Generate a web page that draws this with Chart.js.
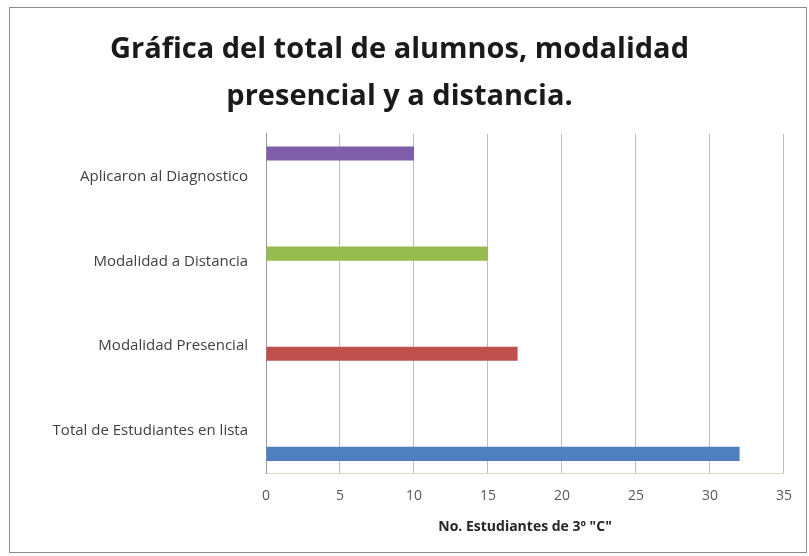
<!DOCTYPE html>
<html>
<head>
<meta charset="utf-8">
<script src="https://cdn.jsdelivr.net/npm/chart.js@4/dist/chart.umd.min.js"></script>
<style>
    body { margin: 0; background: #ffffff; }
    #frame {
        position: absolute; left: 9px; top: 7px; width: 798px; height: 546px;
        border: 1px solid #8c8c8c; box-sizing: border-box;
    }
    #chartBox { position: absolute; left: 0; top: 0; width: 796px; height: 544px; }
</style>
</head>
<body>
<div id="frame"><div id="chartBox"><canvas id="barChart"></canvas></div></div>
<script>
const categories = ['Aplicaron al Diagnostico', 'Modalidad a Distancia', 'Modalidad Presencial', 'Total de Estudiantes en lista'];
const aplicaron = [10, null, null, null];
const distancia = [null, 15, null, null];
const presencial = [null, null, 17, null];
const totalLista = [null, null, null, 32];
const xTicks = [0, 5, 10, 15, 20, 25, 30, 35];

const chartTitle = ['Gráfica del total de alumnos, modalidad', 'presencial y a distancia.'];
const axisTitle = 'No. Estudiantes de 3º "C"';

document.addEventListener('DOMContentLoaded', () => {
    renderChart();
});

function renderChart() {
    const ctx = document.getElementById('barChart');
    const series = [
        { label: categories[0], data: aplicaron, color: '#7f5fa9' },
        { label: categories[1], data: distancia, color: '#98bb4f' },
        { label: categories[2], data: presencial, color: '#c0504d' },
        { label: categories[3], data: totalLista, color: '#4f7fbf' }
    ];

    new Chart(ctx, {
        type: 'bar',
        data: {
            labels: categories,
            datasets: series.map((s) => ({
                label: s.label,
                data: s.data,
                backgroundColor: s.color,
                borderWidth: 0,
                categoryPercentage: 0.72,
                barPercentage: 0.92
            }))
        },
        options: {
            indexAxis: 'y',
            responsive: true,
            maintainAspectRatio: false,
            animation: false,
            layout: {
                padding: { left: 4, right: 21, top: 10, bottom: 13 }
            },
            plugins: {
                legend: { display: false },
                tooltip: { enabled: false },
                title: {
                    display: true,
                    text: chartTitle,
                    color: '#1a1a1a',
                    font: { family: 'Open Sans', size: 29, weight: 'bold', lineHeight: 1.62 },
                    padding: { top: 8, bottom: 14 }
                }
            },
            scales: {
                x: {
                    min: 0,
                    max: 35,
                    afterBuildTicks: (axis) => {
                        axis.ticks = xTicks.map((v) => ({ value: v }));
                    },
                    grid: { color: '#bdbdbd', lineWidth: 1, drawTicks: false },
                    border: { color: '#e2d6c2' },
                    ticks: {
                        color: '#595959',
                        padding: 14,
                        font: { family: 'Open Sans', size: 14 }
                    },
                    title: {
                        display: true,
                        text: axisTitle,
                        color: '#262626',
                        padding: { top: 0 },
                        font: { family: 'Open Sans', size: 14, weight: 'bold' }
                    }
                },
                y: {
                    afterFit: (axis) => {
                        axis.width = 252;
                    },
                    grid: { display: false, drawTicks: false },
                    border: { color: '#9a9a9a' },
                    ticks: {
                        color: '#404040',
                        padding: 18,
                        font: { family: 'Open Sans', size: 15 }
                    }
                }
            }
        }
    });
}
</script>
</body>
</html>
